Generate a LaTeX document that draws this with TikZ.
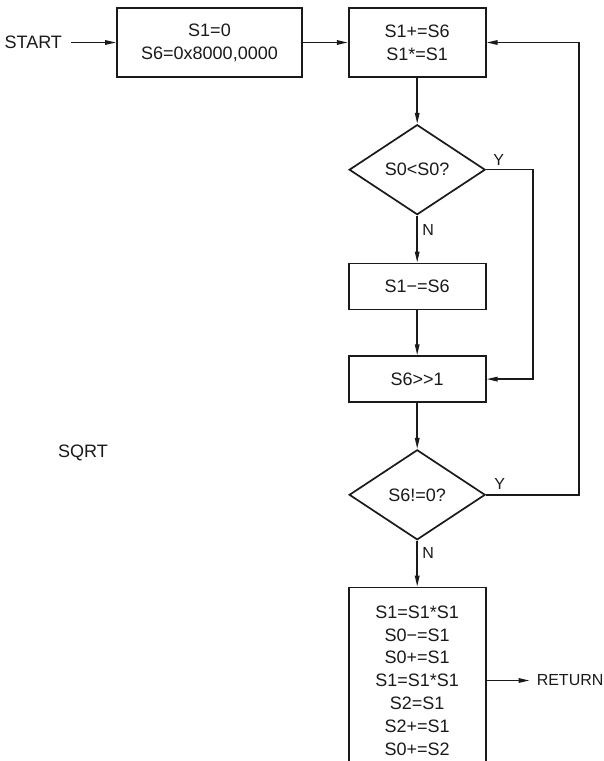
\documentclass[tikz,border=0pt]{standalone}
\usepackage{fontspec}
\setmainfont{Liberation Sans}
\usepackage{xcolor}
\definecolor{InkBlack}{HTML}{1A1A1A}
\usepackage{tikz}
\usetikzlibrary{shapes.geometric, arrows.meta, positioning}
\tikzset{
  processbox/.style={rectangle, draw=InkBlack, line width=1.7pt, minimum width=137pt, minimum height=46pt, inner sep=0pt, font=\fontsize{18}{22.8}\selectfont, align=center, text=InkBlack},
  decisionbox/.style={diamond, draw=InkBlack, line width=1.7pt, minimum width=136pt, minimum height=90pt, inner sep=0pt, font=\fontsize{18}{22.8}\selectfont, text=InkBlack},
  termtext/.style={font=\fontsize{18}{22.8}\selectfont, text=InkBlack, inner sep=0pt},
  flagtext/.style={font=\fontsize{16}{19}\selectfont, text=InkBlack, inner sep=0pt},
  arrow/.style={-{Triangle[length=11pt,width=4.5pt]}, line width=1.5pt, InkBlack}
}
\begin{document}
\begin{tikzpicture}[node distance=46pt]
  \useasboundingbox[fill=white] (0,0) rectangle (604pt,-761pt);

  \node[processbox, minimum width=185pt, minimum height=69pt] (init) at (209.5pt,-42.5pt) {S1=0\\S6=0x8000,0000};
  \node[processbox, minimum height=69pt, right=45pt of init] (update) {S1+=S6\\S1*=S1};
  \node[termtext, left=54pt of init] (start) {START};

  \node[decisionbox, below=46pt of update] (test) {S0<S0?};
  \node[processbox, below=47pt of test] (sub) {S1−=S6};
  \node[processbox, below=45pt of sub] (shift) {S6>{}>1};
  \node[decisionbox, below=46pt of shift] (loop) {S6!=0?};
  \node[processbox, minimum height=186pt, below=46pt of loop] (final) {S1=S1*S1\\S0−=S1\\S0+=S1\\S1=S1*S1\\S2=S1\\S2+=S1\\S0+=S2};
  \node[termtext, font=\fontsize{16}{19}\selectfont, anchor=west, right=50pt of final] (ret) {RETURN};

  \node[termtext] (name) at (83pt,-453pt) {SQRT};

  \node[flagtext, anchor=south west] (ytest) at ([xshift=7pt,yshift=4pt]test.east) {Y};
  \node[flagtext, anchor=north west] (ntest) at ([xshift=5pt,yshift=-9pt]test.south) {N};
  \node[flagtext, anchor=south west] (yloop) at ([xshift=8pt,yshift=5pt]loop.east) {Y};
  \node[flagtext, anchor=north west] (nloop) at ([xshift=5pt,yshift=-7pt]loop.south) {N};

  \draw[arrow] (start.east) ++(9pt,0) -- (init);
  \draw[arrow] (init) -- (update);
  \draw[arrow] (update) -- (test);
  \draw[arrow] (test) -- (sub);
  \draw[arrow] (test.east) -- ++(47pt,0) |- (shift.east);
  \draw[arrow] (sub) -- (shift);
  \draw[arrow] (shift) -- (loop);
  \draw[arrow] (loop.east) -- ++(93pt,0) |- (update.east);
  \draw[arrow] (loop) -- (final);
  \draw[arrow] (final) -- ([xshift=-7pt]ret.west);
\end{tikzpicture}
\end{document}
